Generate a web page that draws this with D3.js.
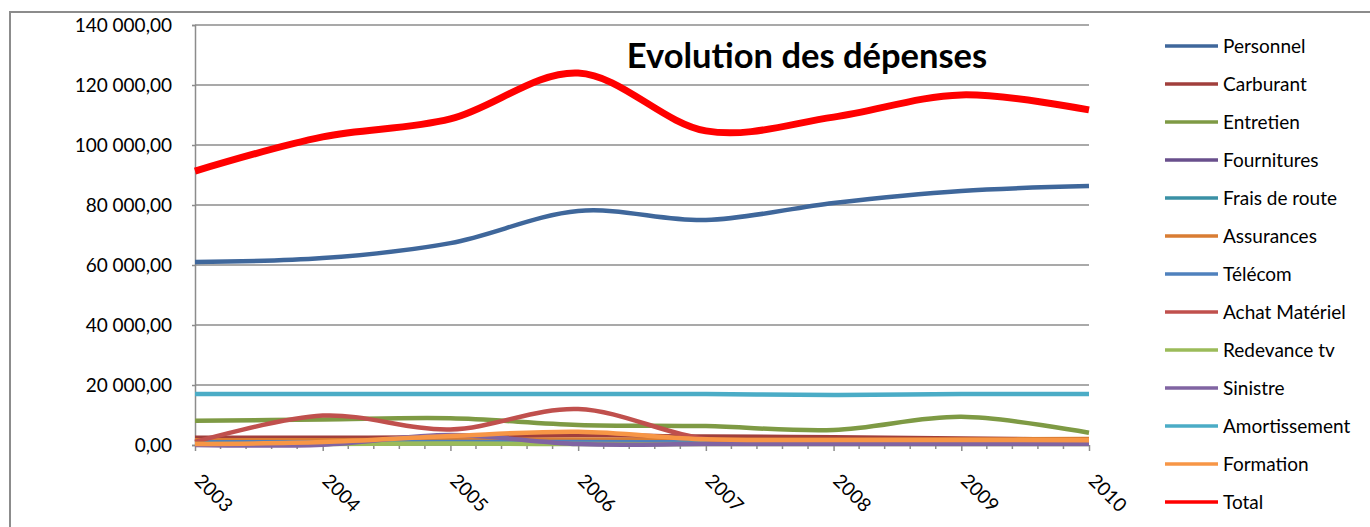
<!DOCTYPE html>
<html><head><meta charset="utf-8">
<script src="https://cdn.jsdelivr.net/npm/d3@7"></script>
<style>
html,body{margin:0;padding:0;background:#fff;}
svg{display:block;font-family:Lato, "Open Sans", sans-serif;}
</style></head>
<body>
<svg id="chart" width="1370" height="527"></svg>
<script>
const years = ["2003","2004","2005","2006","2007","2008","2009","2010"];
const seriesNames = ["Personnel","Carburant","Entretien","Fournitures","Frais de route","Assurances","Télécom","Achat Matériel","Redevance tv","Sinistre","Amortissement","Formation","Total"];
const seriesColors = ["#3F679B","#A13F3C","#7E9A44","#694F8C","#3A90A5","#D97D33","#4F81BD","#C0504D","#9BBB59","#8064A2","#4BACC6","#F79646","#FF0000"];
const personnel     = [61000, 62300, 67300, 78000, 75000, 80700, 84700, 86300];
const carburant     = [2400, 2400, 2600, 3300, 2800, 2600, 2200, 1700];
const entretien     = [8100, 8500, 8900, 6700, 6300, 5000, 9400, 4100];
const fournitures   = [800, 800, 900, 900, 700, 700, 700, 700];
const fraisRoute    = [600, 600, 700, 700, 600, 600, 600, 600];
const assurances    = [1600, 1600, 1700, 1800, 1700, 1700, 1800, 2000];
const telecom       = [900, 900, 1000, 1000, 900, 900, 900, 900];
const achatMateriel = [1000, 9800, 5200, 12000, 2000, 1500, 1500, 1500];
const redevanceTv   = [300, 300, 500, 300, 300, 300, 300, 300];
const sinistre      = [0, 100, 3300, 300, 300, 300, 300, 300];
const amortissement = [17000, 17000, 17000, 17000, 17000, 16700, 17000, 17000];
const formation     = [300, 1000, 3000, 4400, 1900, 1700, 1700, 1600];
const total         = [91300, 102700, 108700, 124000, 104700, 109300, 116700, 111700];
const yTicks = [0, 20000, 40000, 60000, 80000, 100000, 120000, 140000];
const title = "Evolution des dépenses";

const seriesValues = [personnel, carburant, entretien, fournitures, fraisRoute, assurances, telecom, achatMateriel, redevanceTv, sinistre, amortissement, formation, total];
const series = seriesNames.map((n,i)=>({name:n, color:seriesColors[i], values:seriesValues[i]}));

const svg = d3.select("#chart");
const L = 195, R = 1089, T = 25, B = 445;

// outer frame
svg.append("rect").attr("x",10).attr("y",12).attr("width",1400).attr("height",600)
  .attr("fill","none").attr("stroke","#8c8c8c").attr("stroke-width",2);

const x = d3.scalePoint().domain(years).range([L,R]);
const y = d3.scaleLinear().domain([0,140000]).range([B,T]);

const fmt = v => d3.format(",.2f")(v).replace(/,/g," ").replace(".",",");

// gridlines
svg.append("g").selectAll("line").data(yTicks.filter(d=>d>0)).join("line")
  .attr("x1",L).attr("x2",R).attr("y1",d=>y(d)).attr("y2",d=>y(d))
  .attr("stroke","#8c8c8c").attr("stroke-width",1.5);

// y axis
const yAxis = svg.append("g").attr("transform",`translate(${L},0)`)
  .call(d3.axisLeft(y).tickValues(yTicks).tickFormat(fmt).tickSize(3).tickPadding(20));
yAxis.select(".domain").attr("stroke","#8c8c8c").attr("stroke-width",1.5);
yAxis.selectAll(".tick line").attr("stroke","#8c8c8c").attr("stroke-width",1.5);
yAxis.selectAll("text").attr("font-size",19).attr("fill","#000").attr("font-family","Lato");

// x axis with minor ticks
const step = x.step();
const minorPos = [];
for (let i=0;i<years.length-1;i++) for (let k=1;k<5;k++) minorPos.push(x(years[i]) + step*k/5);
svg.append("line").attr("x1",L).attr("x2",R).attr("y1",B).attr("y2",B)
  .attr("stroke","#8c8c8c").attr("stroke-width",1.5);
svg.append("g").selectAll("line").data(minorPos).join("line")
  .attr("x1",d=>d).attr("x2",d=>d).attr("y1",B).attr("y2",B+4)
  .attr("stroke","#8c8c8c").attr("stroke-width",1.5);
const xAxis = svg.append("g").attr("transform",`translate(0,${B})`)
  .call(d3.axisBottom(x).tickSize(6).tickPadding(0));
xAxis.select(".domain").remove();
xAxis.selectAll(".tick line").attr("stroke","#8c8c8c").attr("stroke-width",1.5);
xAxis.selectAll(".tick text")
  .attr("font-size",19).attr("fill","#000").attr("font-family","Lato")
  .attr("text-anchor","start").attr("dy",null).attr("y",null)
  .attr("transform","translate(-2,37) rotate(45)");

// lines
const line = d3.line().x((d,i)=>x(years[i])).y(d=>y(d)).curve(d3.curveCardinal.tension(0));
svg.append("g").selectAll("path").data(series).join("path")
  .attr("d",d=>line(d.values)).attr("fill","none")
  .attr("stroke",d=>d.color)
  .attr("stroke-width",d=>d.name==="Total"?7:4.5)
  .attr("stroke-linejoin","round").attr("stroke-linecap","butt");

// title
svg.append("text").attr("x",807).attr("y",68).attr("text-anchor","middle")
  .attr("font-size",34.5).attr("font-weight","bold").attr("font-family","Lato").attr("fill","#000")
  .text(title);

// legend
const lg = svg.append("g");
const rows = lg.selectAll("g").data(series).join("g")
  .attr("transform",(d,i)=>`translate(1165,${46+i*38})`);
rows.append("line").attr("x1",0).attr("x2",53).attr("y1",0).attr("y2",0)
  .attr("stroke",d=>d.color).attr("stroke-width",3.5);
rows.append("text").attr("x",58).attr("y",0).attr("dy","0.35em")
  .attr("font-size",19).attr("font-family","Lato").attr("fill","#000").text(d=>d.name);
</script>
</body></html>
